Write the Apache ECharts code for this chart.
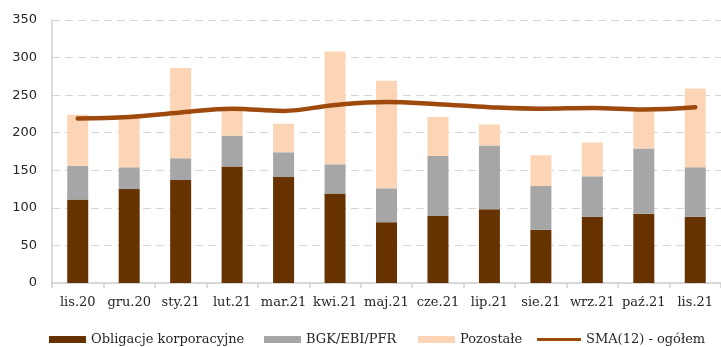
<!DOCTYPE html>
<html>
<head>
<meta charset="utf-8">
<script src="https://cdn.jsdelivr.net/npm/echarts@6/dist/echarts.min.js"></script>
<style>
  html, body { margin: 0; padding: 0; background: #fff; }
  #chart { width: 721px; height: 347px; }
</style>
</head>
<body>
<div id="chart"></div>
<script>
// Monthly issuance (mln zł) by issuer group, with 12-month moving average of the total
const months = ['lis.20', 'gru.20', 'sty.21', 'lut.21', 'mar.21', 'kwi.21', 'maj.21',
                'cze.21', 'lip.21', 'sie.21', 'wrz.21', 'paź.21', 'lis.21'];
const corporate = [111, 125, 137, 155, 141, 119, 81, 89, 98, 71, 88, 92, 88];
const bgkEbiPfr = [45, 29, 29, 41, 33, 39, 45, 80, 85, 58, 54, 87, 66];
const others    = [68, 67, 120, 34, 38, 150, 143, 52, 28, 41, 45, 51, 105];
const sma12     = [219, 221, 227, 232, 229, 237, 241, 238, 234, 232, 233, 231, 234];
const yTicks    = { min: 0, max: 350, interval: 50 };

const serif = 'DejaVu Serif';
const sans = 'DejaVu Sans';

// One legend block per entry so each key sits at its own horizontal spot
function legendEntry(name, left, width, icon) {
  return {
    left: left,
    top: 333,
    padding: 0,
    itemWidth: width,
    itemHeight: 7,
    textStyle: { fontFamily: serif, fontSize: 13, color: '#262626' },
    data: [{ name: name, icon: icon }]
  };
}

const chart = echarts.init(document.getElementById('chart'), null, { renderer: 'canvas' });

chart.setOption({
  animation: false,
  backgroundColor: '#ffffff',
  grid: { left: 52, top: 20, width: 676, height: 263, containLabel: false },
  legend: [
    legendEntry('Obligacje korporacyjne', 49, 37, 'rect'),
    legendEntry('BGK/EBI/PFR', 264, 37, 'rect'),
    legendEntry('Pozostałe', 418, 37, 'rect'),
    legendEntry('SMA(12) - ogółem', 537, 44, 'path://M0,2 L44,2 L44,5 L0,5 Z')
  ],
  xAxis: {
    type: 'category',
    data: months,
    boundaryGap: true,
    axisLine: { show: true, lineStyle: { color: '#D0D0D0', width: 1.5 } },
    axisTick: { show: true, length: 5, lineStyle: { color: '#D0D0D0', width: 1.5 } },
    axisLabel: { interval: 0, fontFamily: serif, fontSize: 13, color: '#262626', margin: 13 },
    splitLine: { show: false }
  },
  yAxis: {
    type: 'value',
    min: yTicks.min,
    max: yTicks.max,
    interval: yTicks.interval,
    axisLine: { show: true, lineStyle: { color: '#D0D0D0', width: 1.5 } },
    axisTick: { show: false },
    axisLabel: { fontFamily: sans, fontSize: 13, color: '#262626', margin: 15 },
    splitLine: { show: true, lineStyle: { color: '#D6D6D6', width: 1, type: [8, 5] } }
  },
  series: [
    {
      name: 'Obligacje korporacyjne', type: 'bar', stack: 'total', barWidth: 21,
      itemStyle: { color: '#663300' }, data: corporate
    },
    {
      name: 'BGK/EBI/PFR', type: 'bar', stack: 'total', barWidth: 21,
      itemStyle: { color: '#A6A6A6' }, data: bgkEbiPfr
    },
    {
      name: 'Pozostałe', type: 'bar', stack: 'total', barWidth: 21,
      itemStyle: { color: '#FBD5B5' }, data: others
    },
    {
      name: 'SMA(12) - ogółem', type: 'line', smooth: 0.4, symbol: 'none', z: 5,
      itemStyle: { color: '#9E4A0C' },
      lineStyle: { color: '#9E4A0C', width: 4.5, cap: 'round' },
      data: sma12
    }
  ]
});
</script>
</body>
</html>
